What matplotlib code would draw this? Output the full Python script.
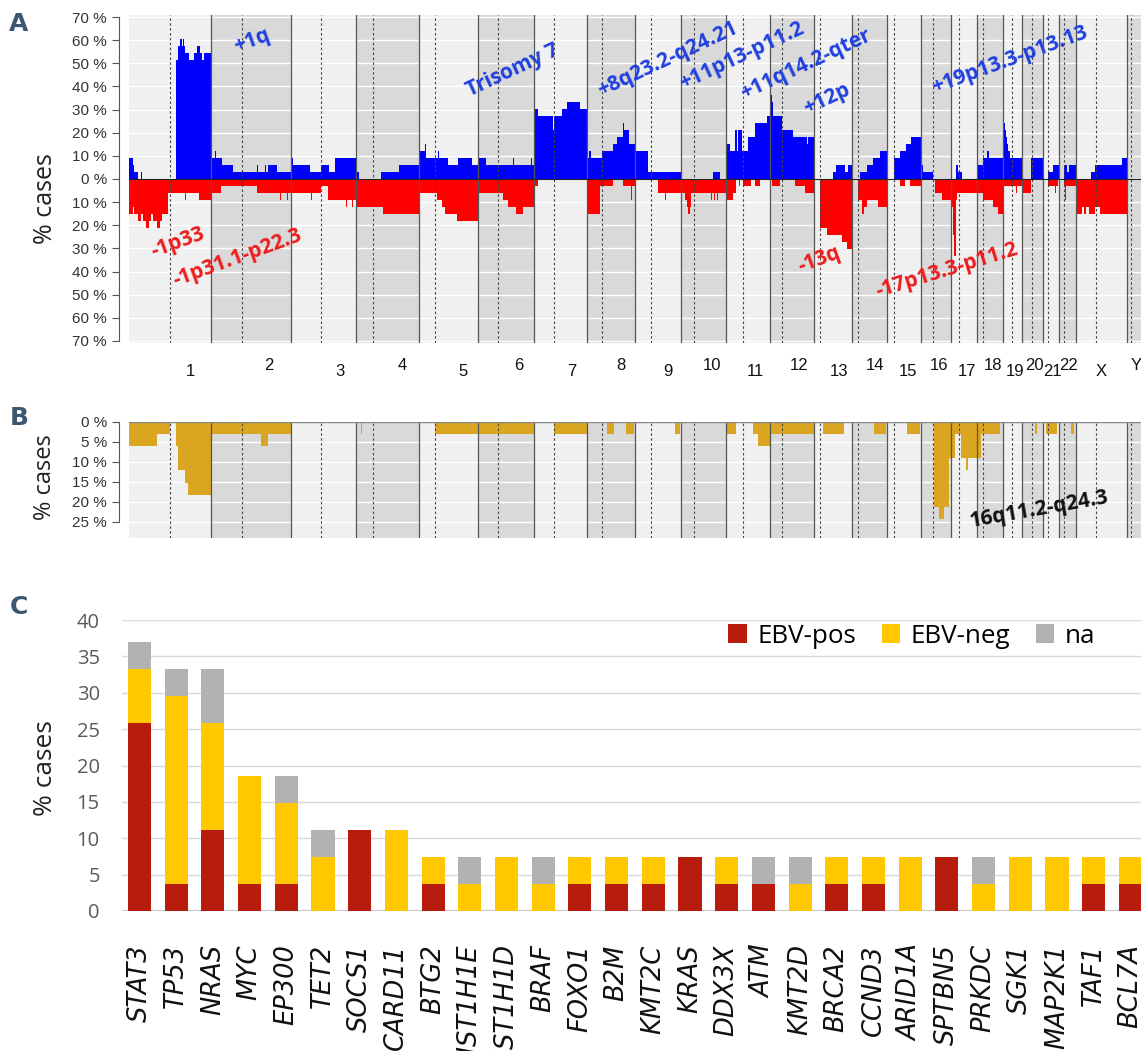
import numpy as np
import matplotlib
matplotlib.use("Agg")
import matplotlib.pyplot as plt

plt.rcParams['font.family'] = ['Open Sans', 'DejaVu Sans']

W, H = 1141, 1051

# hg19 chromosome sizes and centromere positions (Mb)
CHROMS = [str(i) for i in range(1, 23)] + ['X', 'Y']
CHROM_MB = [249.25, 243.2, 198.0, 191.15, 180.9, 171.1, 159.1, 146.4, 141.2, 135.5,
            135.0, 133.85, 115.2, 107.35, 102.5, 90.35, 81.2, 78.1, 59.1, 63.0,
            48.1, 51.3, 155.3, 59.4]
CENTROMERE_MB = [125.0, 93.3, 91.0, 50.4, 48.4, 61.0, 59.9, 45.6, 49.0, 40.2,
                 53.7, 35.8, 17.9, 17.6, 19.0, 36.6, 24.0, 17.2, 26.5, 27.5,
                 13.2, 14.7, 60.6, 12.5]

# copy number gains: (chrom, start Mb, end Mb, % cases)
GAINS = [
    ('1', 0, 13, 9.1), ('1', 13, 15, 6.1), ('1', 15, 28, 3.0), ('1', 35, 39, 3.0),
    ('1', 143, 148, 51.5), ('1', 148, 155, 57.6), ('1', 155, 162, 60.6), ('1', 162, 164, 57.6),
    ('1', 164, 168, 60.6), ('1', 168, 171.5, 57.6), ('1', 171.5, 182.5, 54.5), ('1', 182.5, 199, 51.5),
    ('1', 199, 206, 54.5), ('1', 206, 216, 57.6), ('1', 216, 221, 54.5), ('1', 221, 229, 51.5),
    ('1', 229, 249.25, 54.5),
    ('2', 0, 12, 9.1), ('2', 12, 15, 12.1), ('2', 15, 33.5, 9.1), ('2', 33.5, 66, 6.1),
    ('2', 66, 139, 3.0), ('2', 139, 142, 6.1), ('2', 142, 164, 3.0), ('2', 164, 169, 6.1),
    ('2', 169, 175, 3.0), ('2', 175, 200, 6.1), ('2', 200, 243.2, 3.0),
    ('3', 0, 7, 9.1), ('3', 7, 58, 6.1), ('3', 58, 91, 3.0), ('3', 91, 117, 6.1),
    ('3', 117, 134, 3.0), ('3', 134, 198, 9.1),
    ('4', 0, 8, 3.0), ('4', 21, 23, 3.0), ('4', 75, 132, 3.0), ('4', 132, 191.15, 6.1),
    ('5', 0, 19, 12.1), ('5', 19, 22, 15.2), ('5', 22, 59, 9.1), ('5', 59, 62, 12.1),
    ('5', 62, 90, 9.1), ('5', 90, 120, 6.1), ('5', 120, 161, 9.1), ('5', 161, 180.9, 6.1),
    ('6', 0, 24, 9.1), ('6', 24, 106, 6.1), ('6', 106, 108, 9.1), ('6', 108, 162, 6.1),
    ('6', 162, 164, 9.1), ('6', 164, 171.1, 6.1),
    ('7', 0, 12, 30.3), ('7', 12, 57, 27.3), ('7', 57, 59, 21.2), ('7', 59, 83, 27.3),
    ('7', 83, 98, 30.3), ('7', 98, 138, 33.3), ('7', 138, 159.1, 30.3),
    ('8', 0, 7.7, 9.1), ('8', 7.7, 11.8, 12.1), ('8', 11.8, 45, 9.1), ('8', 45, 81, 12.1),
    ('8', 81, 93, 15.2), ('8', 93, 109, 18.2), ('8', 109, 111, 21.2), ('8', 111, 113, 24.2),
    ('8', 113, 121, 21.2), ('8', 121, 123, 24.2), ('8', 123, 129, 21.2), ('8', 129, 146.4, 15.2),
    ('9', 0, 39, 12.1), ('9', 39, 141.2, 3.0),
    ('10', 97, 118, 3.0),
    ('11', 0, 13, 15.2), ('11', 13, 28, 12.1), ('11', 28, 33, 21.2), ('11', 33, 38, 12.1),
    ('11', 38, 48, 21.2), ('11', 48, 68, 12.1), ('11', 68, 89, 18.2), ('11', 89, 124, 24.2),
    ('11', 124, 135, 27.3),
    ('12', 0, 3, 33.3), ('12', 3, 7, 36.4), ('12', 7, 10, 33.3), ('12', 10, 35, 27.3),
    ('12', 35, 70, 21.2), ('12', 70, 111, 18.2), ('12', 111, 116, 15.2), ('12', 116, 133.85, 18.2),
    ('13', 56, 66, 3.0), ('13', 66, 94, 6.1), ('13', 94, 104, 3.0), ('13', 104, 115.2, 6.1),
    ('14', 24, 44, 3.0), ('14', 44, 65, 6.1), ('14', 65, 85, 9.1), ('14', 85, 107.35, 12.1),
    ('15', 19, 40, 9.1), ('15', 40, 58, 12.1), ('15', 58, 71, 15.2), ('15', 71, 102.5, 18.2),
    ('16', 0, 5, 6.1), ('16', 5, 36, 3.0),
    ('17', 16, 23, 6.1), ('17', 23, 35, 3.0),
    ('18', 0, 17, 6.1), ('18', 17, 30, 9.1), ('18', 30, 35, 12.1), ('18', 35, 78.1, 9.1),
    ('19', 0, 3, 27.3), ('19', 3, 6, 24.2), ('19', 6, 9, 21.2), ('19', 9, 12, 18.2),
    ('19', 12, 15, 15.2), ('19', 15, 20, 12.1), ('19', 20, 59.1, 9.1),
    ('20', 25, 63, 9.1),
    ('21', 14, 30, 3.0), ('21', 30, 48.1, 6.1),
    ('22', 15, 25, 6.1), ('22', 25, 30, 3.0), ('22', 30, 51.3, 6.1),
    ('X', 46, 58, 3.0), ('X', 58, 139, 6.1), ('X', 139, 155.3, 9.1),
]

# copy number losses: (chrom, start Mb, end Mb, % cases)
LOSSES = [
    ('1', 0, 13, 15.2), ('1', 13, 16, 12.1), ('1', 16, 28, 15.2), ('1', 28, 35, 18.2),
    ('1', 35, 44, 15.2), ('1', 44, 51, 18.2), ('1', 51, 61, 21.2), ('1', 61, 66, 18.2),
    ('1', 66, 72, 15.2), ('1', 72, 84, 18.2), ('1', 84, 94, 21.2), ('1', 94, 101, 18.2),
    ('1', 101, 120, 15.2), ('1', 120, 160, 6.1), ('1', 160, 162, 12.1), ('1', 162, 170, 6.1),
    ('1', 170, 172, 9.1), ('1', 172, 214, 6.1), ('1', 214, 249.25, 9.1),
    ('2', 0, 32, 6.1), ('2', 32, 139, 3.0), ('2', 139, 210, 6.1), ('2', 210, 212, 9.1),
    ('2', 212, 232, 6.1), ('2', 232, 234, 9.1), ('2', 234, 243.2, 6.1),
    ('3', 0, 62, 6.1), ('3', 62, 64, 9.1), ('3', 64, 91, 6.1), ('3', 91, 114, 3.0),
    ('3', 114, 168, 9.1), ('3', 168, 171, 12.1), ('3', 171, 186, 9.1), ('3', 186, 188, 12.1),
    ('3', 188, 198, 9.1),
    ('4', 0, 60, 12.1), ('4', 60, 62, 15.2), ('4', 62, 81, 12.1), ('4', 81, 191.15, 15.2),
    ('5', 0, 56, 6.1), ('5', 56, 71, 9.1), ('5', 71, 80, 12.1), ('5', 80, 115, 15.2),
    ('5', 115, 180.9, 18.2),
    ('6', 0, 76, 6.1), ('6', 76, 92, 9.1), ('6', 92, 115, 12.1), ('6', 115, 137, 15.2),
    ('6', 137, 171.1, 12.1),
    ('7', 0, 12, 3.0), ('7', 58, 60, 3.0),
    ('8', 0, 5, 9.1), ('8', 5, 40, 15.2), ('8', 40, 80, 3.0), ('8', 110, 125, 3.0),
    ('8', 125, 127, 9.1), ('8', 127, 135, 3.0), ('8', 135, 137, 9.1), ('8', 137, 146.4, 3.0),
    ('9', 69, 93, 6.1), ('9', 93, 95, 9.1), ('9', 95, 141.2, 6.1),
    ('10', 0, 11, 6.1), ('10', 11, 16, 9.1), ('10', 16, 20, 12.1), ('10', 20, 27, 15.2),
    ('10', 27, 30, 12.1), ('10', 30, 90, 6.1), ('10', 90, 92, 9.1), ('10', 92, 100, 6.1),
    ('10', 100, 102, 9.1), ('10', 102, 110, 6.1), ('10', 110, 112, 9.1), ('10', 112, 135.5, 6.1),
    ('11', 0, 21, 9.1), ('11', 21, 30, 6.1), ('11', 40, 42, 3.0), ('11', 53, 78, 3.0),
    ('11', 89, 104, 3.0),
    ('12', 4.5, 30, 3.0), ('12', 75, 106, 3.0), ('12', 106, 133.85, 6.1),
    ('13', 18, 38, 21.2), ('13', 38, 84, 24.2), ('13', 84, 99, 27.3), ('13', 99, 115.2, 30.3),
    ('14', 18, 30, 9.1), ('14', 30, 35, 15.2), ('14', 35, 45, 12.1), ('14', 45, 80, 9.1),
    ('14', 80, 107.35, 12.1),
    ('15', 38, 53, 3.0), ('15', 68, 102.5, 3.0),
    ('16', 44, 63, 6.1), ('16', 63, 90.35, 9.1),
    ('17', 0, 3, 9.1), ('17', 3, 8, 12.1), ('17', 8, 11, 24.2), ('17', 11, 16, 33.3),
    ('17', 16, 19, 9.1), ('17', 19, 81.2, 6.1),
    ('18', 0, 18, 6.1), ('18', 18, 48, 9.1), ('18', 48, 62, 12.1), ('18', 62, 78.1, 15.2),
    ('19', 0, 40, 3.0), ('19', 40, 43, 6.1), ('19', 43, 59.1, 3.0),
    ('20', 0, 25, 6.1),
    ('21', 14, 36, 3.0), ('21', 36, 38, 6.1), ('21', 38, 44, 3.0),
    ('22', 15, 18, 3.0), ('22', 18, 20, 9.1), ('22', 20, 51.3, 3.0),
    ('X', 0, 20, 15.2), ('X', 20, 24, 12.1), ('X', 24, 30, 15.2), ('X', 30, 40, 12.1),
    ('X', 40, 58, 15.2), ('X', 58, 73, 12.1), ('X', 73, 155.3, 15.2),
]

# copy-neutral LOH: (chrom, start Mb, end Mb, % cases)
LOH = [
    ('1', 0, 85, 6.1), ('1', 85, 124, 3.0), ('1', 143, 150, 6.1), ('1', 150, 170, 12.1),
    ('1', 170, 181, 15.2), ('1', 181, 249.25, 18.2),
    ('2', 0, 152, 3.0), ('2', 152, 175, 6.1), ('2', 175, 243.2, 3.0),
    ('4', 15.5, 18, 3.0), ('4', 93, 96, 3.0),
    ('5', 48, 180.9, 3.0),
    ('6', 0, 171.1, 3.0),
    ('7', 60, 159.1, 3.0),
    ('8', 63, 82, 3.0), ('8', 120, 144, 3.0),
    ('9', 123, 137, 3.0),
    ('11', 0, 32, 3.0), ('11', 84, 98, 3.0), ('11', 98, 135, 6.1),
    ('12', 0, 133.85, 3.0),
    ('13', 26, 92, 3.0),
    ('14', 68, 104, 3.0),
    ('15', 61, 98, 3.0),
    ('16', 41, 55, 21.2), ('16', 55, 69, 24.2), ('16', 69, 85, 21.2), ('16', 85, 90.35, 9.1),
    ('17', 0, 12, 9.1), ('17', 12, 30, 3.0), ('17', 30, 47, 9.1), ('17', 47, 52, 12.1),
    ('17', 52, 81.2, 9.1),
    ('18', 0, 10, 9.1), ('18', 10, 70, 3.0),
    ('20', 37, 43, 3.0),
    ('21', 9.5, 42.6, 3.0),
    ('22', 36, 45, 3.0),
]

# region labels in panel A: (text, genome Mb, % cases, rotation, colour)
CNA_LABELS = [
    ('+1q', 374, 59.6, 20, 'gain'),
    ('-1p33', 149, -27.7, 20, 'loss'),
    ('-1p31.1-p22.3', 329, -34.1, 20, 'loss'),
    ('Trisomy 7', 1168, 47.1, 25, 'gain'),
    ('+8q23.2-q24.21', 1640, 51.9, 25, 'gain'),
    ('+11p13-p11.2', 1865, 53.2, 25, 'gain'),
    ('+11q14.2-qter', 2060, 49.3, 25, 'gain'),
    ('+12p', 2124, 34.6, 25, 'gain'),
    ('-13q', 2099, -35.0, 20, 'loss'),
    ('+19p13.3-p13.13', 2680, 51.4, 20, 'gain'),
    ('-17p13.3-p11.2', 2489, -39.3, 17, 'loss'),
]

# panel C: mutation frequencies by EBV status
GENES = ['STAT3', 'TP53', 'NRAS', 'MYC', 'EP300', 'TET2', 'SOCS1', 'CARD11', 'BTG2',
         'HIST1H1E', 'HIST1H1D', 'BRAF', 'FOXO1', 'B2M', 'KMT2C', 'KRAS', 'DDX3X', 'ATM',
         'KMT2D', 'BRCA2', 'CCND3', 'ARID1A', 'SPTBN5', 'PRKDC', 'SGK1', 'MAP2K1', 'TAF1',
         'BCL7A']
EBV_POS = [25.9, 3.7, 11.1, 3.7, 3.7, 0, 11.1, 0, 3.7, 0, 0, 0, 3.7, 3.7, 3.7, 7.4,
           3.7, 3.7, 0, 3.7, 3.7, 0, 7.4, 0, 0, 0, 3.7, 3.7]
EBV_NEG = [7.4, 25.9, 14.8, 14.8, 11.1, 7.4, 0, 11.1, 3.7, 3.7, 7.4, 3.7, 3.7, 3.7, 3.7, 0,
           3.7, 0, 3.7, 3.7, 3.7, 7.4, 0, 3.7, 7.4, 7.4, 3.7, 3.7]
EBV_NA = [3.7, 3.7, 7.4, 0, 3.7, 3.7, 0, 0, 0, 3.7, 0, 3.7, 0, 0, 0, 0,
          0, 3.7, 3.7, 0, 0, 0, 0, 3.7, 0, 0, 0, 0]

offsets = dict(zip(CHROMS, np.concatenate([[0.0], np.cumsum(CHROM_MB)[:-1]])))
GENOME_END = 3079.0


def step_profile(segments):
    """Turn (chrom, start, end, value) segments into stair edges/values on the genome axis."""
    edges, vals = [0.0], []
    for chrom, start, end, pct in sorted(segments, key=lambda s: offsets[s[0]] + s[1]):
        a, b = offsets[chrom] + start, offsets[chrom] + end
        a = max(a, edges[-1])
        if a > edges[-1]:
            vals.append(0.0)
            edges.append(a)
        vals.append(pct)
        edges.append(b)
    return np.array(edges), np.array(vals)


def px_axes(left, top, right, bottom):
    return fig.add_axes([left / W, 1 - bottom / H, (right - left) / W, (bottom - top) / H])


def genome_background(ax, ylo, yhi, grid):
    for i, (c, size) in enumerate(zip(CHROMS, CHROM_MB)):
        ax.axvspan(offsets[c], offsets[c] + size, color='#f0f0f0' if i % 2 == 0 else '#d9d9d9',
                   lw=0, zorder=0)
        if i < len(CHROMS) - 1:
            ax.axvline(offsets[c] + size, color='#555555', lw=0.9, zorder=3)
        ax.axvline(offsets[c] + CENTROMERE_MB[i], color='#444444', lw=0.8,
                   ls=(0, (2.2, 2.2)), zorder=3)
    for v in grid:
        ax.axhline(v, color='white', lw=1.0, zorder=1)
    ax.set_xlim(0, GENOME_END)
    ax.set_ylim(ylo, yhi)
    ax.set_xticks([])
    for s in ('top', 'right', 'bottom'):
        ax.spines[s].set_visible(False)
    ax.spines['left'].set_position(('outward', 7))
    ax.spines['left'].set_color('#555555')
    ax.spines['left'].set_linewidth(0.8)
    ax.tick_params(axis='y', length=5, width=0.8, color='#555555', labelsize=11,
                   labelcolor='#333333', pad=4)


fig = plt.figure(figsize=(W / 100, H / 100), dpi=100)

# ---- A: gains / losses ----
ax_a = px_axes(129, 14.7, 1141, 343.3)
genome_background(ax_a, -71, 71, range(-70, 71, 10))
edges, vals = step_profile(GAINS)
ax_a.stairs(vals, edges, baseline=0, fill=True, color='#0000ff', zorder=2)
edges, vals = step_profile(LOSSES)
ax_a.stairs(-vals, edges, baseline=0, fill=True, color='#ff0000', zorder=2)
ax_a.axhline(0, color='#222222', lw=0.8, zorder=4)
ticks = np.arange(-70, 71, 10)
ax_a.set_yticks(ticks)
ax_a.set_yticklabels([f'{abs(t)} %' for t in ticks], family=['Liberation Sans', 'DejaVu Sans'])
ax_a.spines['left'].set_bounds(-70, 70)

label_colors = {'gain': '#1f3fe0', 'loss': '#ee1c1c'}
for text, gx, gy, rot, kind in CNA_LABELS:
    ax_a.text(gx, gy, text, rotation=rot, rotation_mode='anchor', ha='center', va='center',
              fontsize=15, fontweight='bold', color=label_colors[kind], zorder=5)

# chromosome names
ax_lab = px_axes(150, 350, 1140, 390)
ax_lab.set_xlim(0, GENOME_END)
ax_lab.set_ylim(390, 350)
ax_lab.axis('off')
for i, (c, size) in enumerate(zip(CHROMS, CHROM_MB)):
    ax_lab.text(offsets[c] + size / 2, 372 if i % 2 == 0 else 366, c, ha='center', va='center',
                fontsize=12, family=['Liberation Sans', 'DejaVu Sans'], color='#111111')

# ---- B: LOH ----
ax_b = px_axes(129, 421.5, 1141, 538)
genome_background(ax_b, -29, 0, range(-25, 0, 5))
edges, vals = step_profile(LOH)
ax_b.stairs(-vals, edges, baseline=0, fill=True, color='#daa520', zorder=2)
ax_b.axhline(0, color='#888888', lw=1.0, zorder=4)
bt = np.arange(0, -26, -5)
ax_b.set_yticks(bt)
ax_b.set_yticklabels([f'{abs(t)} %' for t in bt], family=['Liberation Sans', 'DejaVu Sans'])
ax_b.spines['left'].set_bounds(-25, 0)
ax_b.text(2768, -22, '16q11.2-q24.3', rotation=10, rotation_mode='anchor', ha='center',
          va='center', fontsize=15, fontweight='bold', color='#111111', zorder=5)

# ---- C: mutated genes ----
ax_c = px_axes(122, 620, 1141, 911)
x = np.arange(len(GENES))
pos = np.array(EBV_POS)
neg = np.array(EBV_NEG)
na = np.array(EBV_NA)
bw = 0.63
ax_c.bar(x, pos, bw, color='#b71c0c', label='EBV-pos', zorder=2)
ax_c.bar(x, neg, bw, bottom=pos, color='#ffc800', label='EBV-neg', zorder=2)
ax_c.bar(x, na, bw, bottom=pos + neg, color='#b2b2b2', label='na', zorder=2)
ax_c.set_xlim(-0.477, 27.29)
ax_c.set_ylim(0, 40)
ax_c.set_yticks(range(0, 41, 5))
ax_c.yaxis.grid(True, color='#d9d9d9', lw=1.0, zorder=0)
ax_c.set_axisbelow(True)
for s in ax_c.spines.values():
    s.set_visible(False)
ax_c.axhline(0, color='#c8c8c8', lw=1.5, zorder=1)
ax_c.tick_params(axis='y', length=0, pad=16, labelsize=14.5, labelcolor='#595959')
ax_c.set_xticks(x)
ax_c.set_xticklabels(GENES, rotation=90, fontsize=18.5, style='italic',
                     family=['DejaVu Sans'], color='#111111')
ax_c.tick_params(axis='x', length=0, pad=24)
ax_c.legend(loc='center', bbox_to_anchor=(0.775, 0.945), ncol=3, frameon=False,
            fontsize=18.7, handlelength=0.7, handleheight=0.7, handletextpad=0.4,
            columnspacing=1.0)

# axis titles and panel letters
for yc, size in ((199, 18), (477, 17), (768, 19)):
    fig.text(45 / W, 1 - yc / H, '% cases', rotation=90, ha='center', va='center',
             fontsize=size, color='#222222')
for letter, yc in (('A', 24), ('B', 418), ('C', 607)):
    fig.text(19 / W, 1 - yc / H, letter, ha='center', va='center', fontsize=18,
             fontweight='bold', family=['Liberation Sans Narrow', 'DejaVu Sans'],
             color='#3b5870')

fig.savefig('out.png', dpi=100)
